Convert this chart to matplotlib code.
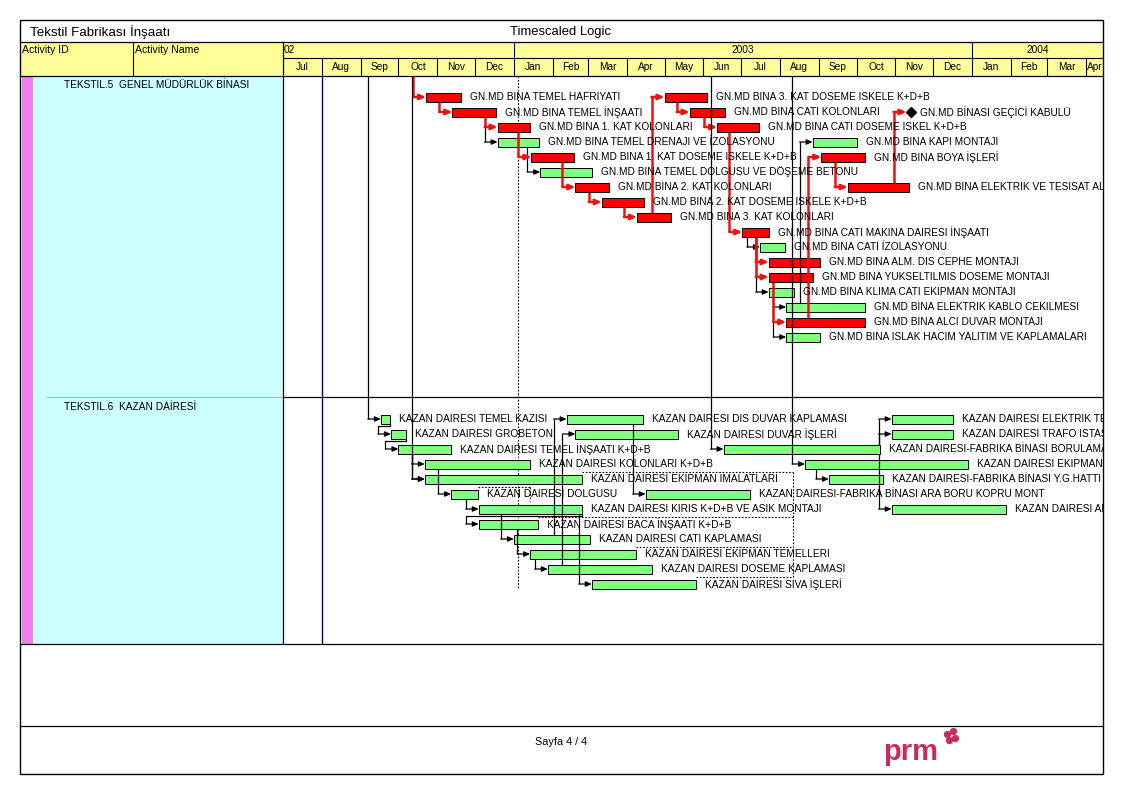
import matplotlib
matplotlib.use("Agg")
import matplotlib.pyplot as plt
import matplotlib.dates as mdates
from matplotlib.patches import Rectangle
from matplotlib.transforms import offset_copy

plt.rcParams['font.family'] = ['Liberation Sans', 'DejaVu Sans']

# ------------------------------------------------------------------ DATA
title_left = "Tekstil Fabrikası İnşaatı"
title_center = "Timescaled Logic"
col_id = "Activity ID"
col_name = "Activity Name"
footer_text = "Sayfa 4 / 4"
logo_text = "prm"

month_labels = ["Jul", "Aug", "Sep", "Oct", "Nov", "Dec", "Jan", "Feb", "Mar", "Apr", "May", "Jun",
                "Jul", "Aug", "Sep", "Oct", "Nov", "Dec", "Jan", "Feb", "Mar", "Apr"]
month_starts = ["2002-07-01", "2002-08-01", "2002-09-01", "2002-10-01", "2002-11-01", "2002-12-01",
                "2003-01-01", "2003-02-01", "2003-03-01", "2003-04-01", "2003-05-01", "2003-06-01",
                "2003-07-01", "2003-08-01", "2003-09-01", "2003-10-01", "2003-11-01", "2003-12-01",
                "2004-01-01", "2004-02-01", "2004-03-01", "2004-04-01"]
year_labels = ["02", "2003", "2004"]
year_starts = ["2002-01-01", "2003-01-01", "2004-01-01"]

view_start = "2002-07-01"
data_date = "2003-01-04"
navy_line_date = "2002-08-01"

sec1_title = "TEKSTIL.5  GENEL MÜDÜRLÜK BİNASI"
sec2_title = "TEKSTIL.6  KAZAN DAİRESİ"

gm_names = [
    "GN.MD BINA TEMEL HAFRIYATI",
    "GN.MD BINA TEMEL İNŞAATI",
    "GN.MD BINA 1. KAT KOLONLARI",
    "GN.MD BINA TEMEL DRENAJI VE İZOLASYONU",
    "GN.MD BINA 1. KAT DOSEME ISKELE K+D+B",
    "GN.MD BINA TEMEL DOLGUSU VE DÖŞEME BETONU",
    "GN.MD BINA 2. KAT KOLONLARI",
    "GN.MD BINA 2. KAT DOSEME ISKELE K+D+B",
    "GN.MD BINA 3. KAT KOLONLARI",
    "GN.MD BINA 3. KAT DOSEME ISKELE K+D+B",
    "GN.MD BINA CATI KOLONLARI",
    "GN.MD BINA CATI DOSEME ISKEL K+D+B",
    "GN.MD BINA CATI MAKINA DAIRESI İNŞAATI",
    "GN.MD BINA CATI İZOLASYONU",
    "GN.MD BINA ALM. DIS CEPHE MONTAJI",
    "GN.MD BINA YUKSELTILMIS DOSEME MONTAJI",
    "GN.MD BINA KLIMA CATI EKIPMAN MONTAJI",
    "GN.MD BINA ELEKTRIK KABLO CEKILMESI",
    "GN.MD BINA ALCI DUVAR MONTAJI",
    "GN.MD BINA ISLAK HACIM YALITIM VE KAPLAMALARI",
    "GN.MD BINA KAPI MONTAJI",
    "GN.MD BINA BOYA İŞLERİ",
    "GN.MD BINA ELEKTRIK VE TESISAT ALTYAPI",
]
gm_rows = [0, 1, 2, 3, 4, 5, 6, 7, 8, 0, 1, 2, 9, 10, 11, 12, 13, 14, 15, 16, 3, 4, 6]
gm_start = ["2002-10-23", "2002-11-13", "2002-12-19", "2002-12-19", "2003-01-15", "2003-01-22",
            "2003-02-19", "2003-03-12", "2003-04-09", "2003-05-01", "2003-05-21", "2003-06-12",
            "2003-07-02", "2003-07-16", "2003-07-23", "2003-07-23", "2003-07-23", "2003-08-06",
            "2003-08-06", "2003-08-06", "2003-08-27", "2003-09-03", "2003-09-24"]
gm_finish = ["2002-11-20", "2002-12-18", "2003-01-14", "2003-01-21", "2003-02-18", "2003-03-04",
             "2003-03-18", "2003-04-15", "2003-05-06", "2003-06-04", "2003-06-18", "2003-07-15",
             "2003-07-23", "2003-08-05", "2003-09-02", "2003-08-27", "2003-08-12", "2003-10-08",
             "2003-10-08", "2003-09-02", "2003-10-01", "2003-10-08", "2003-11-12"]
gm_critical = [1, 1, 1, 0, 1, 0, 1, 1, 1, 1, 1, 1, 1, 0, 1, 1, 0, 0, 1, 0, 0, 1, 1]

gm_milestone_name = "GN.MD BİNASI GEÇİCİ KABULÜ"
gm_milestone_row = 1
gm_milestone_date = "2003-11-13"

# (predecessor index or None for off-page, successor index or "M", critical)
gm_links = [(None, 0, 1), (0, 1, 1), (1, 2, 1), (1, 3, 0), (2, 4, 1), (3, 5, 0), (4, 6, 1),
            (6, 7, 1), (7, 8, 1), (8, 9, 1), (9, 10, 1), (10, 11, 1), (11, 12, 1), (12, 13, 0),
            (12, 14, 1), (12, 15, 1), (12, 16, 0), (16, 17, 0), (15, 18, 1), (16, 19, 0),
            (18, 21, 1), (17, 20, 0), (21, 22, 1), (22, "M", 1)]

kz_names = [
    "KAZAN DAIRESI TEMEL KAZISI",
    "KAZAN DAIRESI GROBETON",
    "KAZAN DAIRESI TEMEL İNŞAATI K+D+B",
    "KAZAN DAIRESI KOLONLARI K+D+B",
    "KAZAN DAIRESI EKİPMAN İMALATLARI",
    "KAZAN DAIRESI DOLGUSU",
    "KAZAN DAIRESI KIRIS K+D+B VE ASIK MONTAJI",
    "KAZAN DAIRESI BACA İNŞAATI K+D+B",
    "KAZAN DAIRESI CATI KAPLAMASI",
    "KAZAN DAIRESI EKİPMAN TEMELLERI",
    "KAZAN DAIRESI DOSEME KAPLAMASI",
    "KAZAN DAIRESI SIVA İŞLERİ",
    "KAZAN DAIRESI DIS DUVAR KAPLAMASI",
    "KAZAN DAIRESI DUVAR İŞLERİ",
    "KAZAN DAIRESI-FABRIKA BİNASI ARA BORU KOPRU MONT",
    "KAZAN DAIRESI-FABRIKA BİNASI BORULAMA",
    "KAZAN DAIRESI EKIPMAN MONTAJI",
    "KAZAN DAIRESI-FABRIKA BİNASI Y.G.HATTI",
    "KAZAN DAIRESI ELEKTRIK TESISATI",
    "KAZAN DAIRESI TRAFO ISTASYONU",
    "KAZAN DAIRESI ARMATUR MONTAJI",
]
kz_rows = [0, 1, 2, 3, 4, 5, 6, 7, 8, 9, 10, 11, 0, 1, 5, 2, 3, 4, 0, 1, 6]
kz_start = ["2002-09-17", "2002-09-25", "2002-10-01", "2002-10-22", "2002-10-22", "2002-11-12",
            "2002-12-04", "2002-12-04", "2003-01-01", "2003-01-14", "2003-01-28", "2003-03-04",
            "2003-02-12", "2003-02-19", "2003-04-16", "2003-06-17", "2003-08-21", "2003-09-09",
            "2003-10-29", "2003-10-29", "2003-10-29"]
kz_finish = ["2002-09-24", "2002-10-07", "2002-11-12", "2003-01-14", "2003-02-24", "2002-12-03",
             "2003-02-24", "2003-01-20", "2003-03-03", "2003-04-08", "2003-04-21", "2003-05-26",
             "2003-04-14", "2003-05-12", "2003-07-08", "2003-10-20", "2003-12-29", "2003-10-22",
             "2003-12-17", "2003-12-17", "2004-01-28"]
kz_float_end = [None, None, None, None, "2003-08-11", "2003-01-14", None, "2003-08-11", None,
                "2003-08-11", None, "2003-08-11", None, None, None, None, None, None, None, None, None]

kz_links = [(None, 0), (0, 1), (1, 2), (2, 3), (None, 4), (2, 4), (3, 5), (5, 6), (6, 7), (6, 8),
            (7, 9), (9, 10), (6, 11), (8, 12), (10, 13), (12, 14), (None, 15), (None, 16),
            (16, 17), (15, 18), (15, 19), (15, 20)]

# ------------------------------------------------------------------ LAYOUT / STYLE
W, H = 1123, 794
X0, X1 = 283, 1103          # chart area (pixels)
Y0, Y1 = 76, 644
PX_PER_DAY = 1.255
ROW_H = 15
SEC1_BAR0 = 21              # chart-local pixel of first row centre
SEC_SEP = 321
SEC2_BAR0 = 343
HB = 4.5                    # half bar height (px)
LINK_PX = 13
LABEL_PX = 9
FS = 7.3

RED = "#FF0000"
GREEN = "#80FF80"
LINK_RED = "#EE1111"
YELLOW = "#FFFF99"
CYAN = "#CCFFFF"
PINK = "#F080F0"
LOGO = "#C92C5C"

fig = plt.figure(figsize=(W / 100, H / 100), dpi=100)


def frac(x0, y0, x1, y1):
    return [x0 / W, 1 - y1 / H, (x1 - x0) / W, (y1 - y0) / H]


page = fig.add_axes([0, 0, 1, 1])
page.set_xlim(0, W)
page.set_ylim(H, 0)
page.axis('off')

# page backgrounds and frame
page.add_patch(Rectangle((20, 42), 1083, 34, facecolor=YELLOW, edgecolor='none', zorder=0))
page.add_patch(Rectangle((22, 76), 11, 568, facecolor=PINK, edgecolor='none', zorder=0))
page.add_patch(Rectangle((33, 76), 250, 568, facecolor=CYAN, edgecolor='none', zorder=0))
page.add_patch(Rectangle((20, 20), 1083, 754, facecolor='none', edgecolor='black', lw=1.0, zorder=5))
for yy in (42, 76, 644, 726):
    page.plot([20, 1103], [yy, yy], color='black', lw=0.9, zorder=5)
page.plot([133, 133], [42, 76], color='black', lw=0.8, zorder=5)
page.plot([283, 283], [42, 644], color='black', lw=0.9, zorder=5)
page.plot([47, 283], [397, 397], color='#B0B0B0', lw=0.8, zorder=1)

page.text(30, 32, title_left, fontsize=9.6, va='center', ha='left')
page.text(561, 32, title_center, fontsize=9.4, va='center', ha='center')
page.text(22, 50, col_id, fontsize=7.6, va='center', ha='left')
page.text(135, 50, col_name, fontsize=7.6, va='center', ha='left')
page.text(64, 85, sec1_title, fontsize=FS, va='center', ha='left')
page.text(64, 407, sec2_title, fontsize=FS, va='center', ha='left')
page.text(561, 742, footer_text, fontsize=7.8, va='center', ha='center')
page.text(883, 752, logo_text, fontsize=21, fontweight='bold', color=LOGO, va='center', ha='left')
page.scatter([947, 953, 955, 949], [734, 731, 738, 740], s=18, color=LOGO, zorder=6)

# ------------------------------------------------------------------ chart axes
d = mdates.datestr2num
xs0 = d(view_start)
xs1 = xs0 + (X1 - X0) / PX_PER_DAY
dpx = 1.0 / PX_PER_DAY      # days per pixel

chart = fig.add_axes(frac(X0, Y0, X1, Y1))
chart.set_xlim(xs0, xs1)
chart.set_ylim(Y1 - Y0, 0)
chart.set_axis_off()

header = fig.add_axes(frac(X0, 42, X1, Y0))
header.set_xlim(xs0, xs1)
header.set_ylim(34, 0)
header.set_axis_off()

# header: years and months
header.plot([xs0, xs1], [16, 16], color='black', lw=0.8)
for i, (lab, ms) in enumerate(zip(month_labels, month_starts)):
    a = d(ms)
    b = d(month_starts[i + 1]) if i + 1 < len(month_starts) else xs1
    if a > xs0:
        header.plot([a, a], [16, 34], color='black', lw=0.8)
    if b <= xs1:
        header.text((a + b) / 2, 25.5, lab, fontsize=FS, ha='center', va='center')
    else:
        header.text(a + 1 * dpx, 25.5, lab, fontsize=FS * 0.85, ha='left', va='center', clip_on=True)
for i, (lab, ys) in enumerate(zip(year_labels, year_starts)):
    a = max(d(ys), xs0)
    b = d(year_starts[i + 1]) if i + 1 < len(year_starts) else xs1
    if d(ys) > xs0:
        header.plot([a, a], [0, 16], color='black', lw=0.8)
    if d(ys) < xs0:
        header.text(a + 1 * dpx, 8, lab, fontsize=FS, ha='left', va='center')
    else:
        header.text((a + b) / 2, 8, lab, fontsize=FS, ha='center', va='center')

# section separator, navy line, data date
chart.plot([xs0, xs1], [SEC_SEP, SEC_SEP], color='black', lw=0.9, zorder=1)
chart.plot([d(navy_line_date)] * 2, [0, Y1 - Y0], color='#000080', lw=1.0, zorder=1)
chart.plot([d(data_date)] * 2, [0, 512], color='black', lw=0.8, ls=(0, (1.5, 1.5)), zorder=1)

lab_tr = offset_copy(chart.transData, fig=fig, x=LABEL_PX, y=0, units='dots')


def row_y1(r):
    return SEC1_BAR0 + r * ROW_H


def row_y2(r):
    return SEC2_BAR0 + r * ROW_H


def draw_link(pred, succ_start, sy, color, lw):
    xv = succ_start - LINK_PX * dpx
    if pred is None:
        xs, ys = [xv, xv], [0, sy]
    else:
        ps, pf, py = pred
        if xv < ps:
            yy = py + HB + 2
            xs, ys = [pf, pf, xv, xv], [py + HB, yy, yy, sy]
        elif xv > pf:
            xs, ys = [pf, xv, xv], [py, py, sy]
        else:
            edge = py + HB if sy > py else py - HB
            xs, ys = [xv, xv], [edge, sy]
    chart.plot(xs, ys, color=color, lw=lw, solid_capstyle='butt', zorder=3)
    chart.annotate('', xy=(succ_start, sy), xytext=(xv, sy),
                   arrowprops=dict(arrowstyle='-|>,head_length=0.5,head_width=0.22',
                                   color=color, lw=lw, shrinkA=0, shrinkB=0, mutation_scale=7),
                   zorder=3)


# ---- section 1 bars
gm_y = [row_y1(r) for r in gm_rows]
gm_s = [d(s) for s in gm_start]
gm_f = [d(f) for f in gm_finish]
chart.barh(gm_y, [f - s for s, f in zip(gm_s, gm_f)], left=gm_s, height=2 * HB,
           color=[RED if c else GREEN for c in gm_critical], edgecolor='black', lw=0.7, zorder=2)
for name, y, f in zip(gm_names, gm_y, gm_f):
    chart.text(f, y, name, transform=lab_tr, fontsize=FS, va='center', ha='left',
               clip_on=True, zorder=4)
ms_x = d(gm_milestone_date)
ms_y = row_y1(gm_milestone_row)
chart.plot([ms_x], [ms_y], marker='D', color='black', markersize=5, zorder=4)
chart.text(ms_x, ms_y, gm_milestone_name, transform=lab_tr, fontsize=FS, va='center',
           ha='left', clip_on=True, zorder=4)

for p, s, c in sorted(gm_links, key=lambda t: t[2]):
    pred = None if p is None else (gm_s[p], gm_f[p], gm_y[p])
    if s == "M":
        ss, sy = ms_x - 4 * dpx, ms_y
    else:
        ss, sy = gm_s[s], gm_y[s]
    draw_link(pred, ss, sy, LINK_RED if c else 'black', 1.8 if c else 0.9)

# ---- section 2 bars
kz_y = [row_y2(r) for r in kz_rows]
kz_s = [d(s) for s in kz_start]
kz_f = [d(f) for f in kz_finish]
chart.barh(kz_y, [f - s for s, f in zip(kz_s, kz_f)], left=kz_s, height=2 * HB,
           color=GREEN, edgecolor='black', lw=0.7, zorder=2)
for name, y, f in zip(kz_names, kz_y, kz_f):
    chart.text(f, y, name, transform=lab_tr, fontsize=FS, va='center', ha='left',
               clip_on=True, zorder=4)

# total float lines
float_groups = {}
for y, f, fe in zip(kz_y, kz_f, kz_float_end):
    if fe is None:
        continue
    top = y - 7
    chart.plot([f, d(fe)], [top, top], color='black', lw=0.8, ls=(0, (1.5, 1.5)), zorder=1)
    float_groups.setdefault(fe, []).append(top)
for fe, tops in float_groups.items():
    lo, hi = min(tops), max(tops)
    if hi - lo < 1:
        hi = lo + 14
    chart.plot([d(fe)] * 2, [lo, hi], color='black', lw=0.8, ls=(0, (1.5, 1.5)), zorder=1)

for p, s in kz_links:
    pred = None if p is None else (kz_s[p], kz_f[p], kz_y[p])
    draw_link(pred, kz_s[s], kz_y[s], 'black', 0.9)

fig.savefig("out.png", dpi=100)
